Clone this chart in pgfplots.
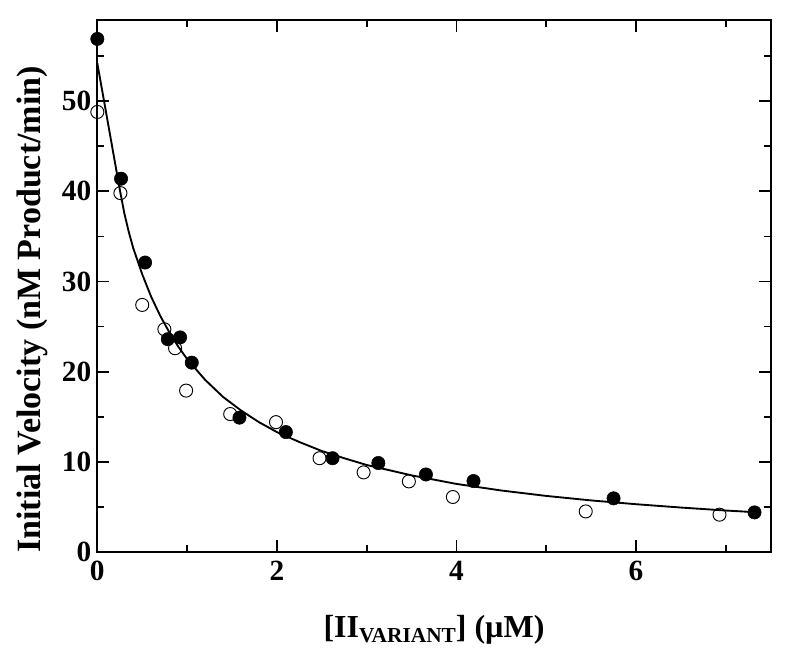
\documentclass[border=0pt]{standalone}
\usepackage{fontspec}
\setmainfont{Liberation Serif}
\usepackage{pgfplots}
\pgfplotsset{compat=1.18}

\begin{document}
\begin{tikzpicture}
\begin{axis}[
    scale only axis,
    width=505pt, height=399pt,
    xmin=0, xmax=7.5, ymin=0, ymax=59,
    xtick={0,2,4,6}, minor xtick={1,3,5,7},
    ytick={0,10,20,30,40,50}, minor ytick={5,15,25,35,45,55},
    tick align=inside,
    major tick length=9pt, minor tick length=5pt,
    every tick/.style={line width=1.3pt, black},
    axis line style={line width=1.5pt},
    /pgf/number format/assume math mode=true,
    tick label style={font=\fontsize{22}{26}\selectfont\bfseries},
    xticklabel style={yshift=-3pt},
    yticklabel style={xshift=-1pt},
    xlabel={[II\raisebox{-0.35ex}{\fontsize{16}{16}\selectfont VARIANT}] (µM)},
    ylabel={Initial Velocity (nM Product/min)},
    xlabel style={font=\fontsize{24}{28}\selectfont\bfseries, at={(axis description cs:0.5,0)}, anchor=north, inner sep=0pt, yshift=-47pt},
    ylabel style={font=\fontsize{25.5}{30}\selectfont\bfseries, at={(axis description cs:0,0.456)}, anchor=south, inner sep=0pt, yshift=37pt},
    clip=false,
]
% fitted curve
\addplot[black, line width=1.4pt, no marks] coordinates {
(0,54.2) (0.25,40.2) (0.3,37.6) (0.35,35.5) (0.4,33.7) (0.5,30.8) (0.6,28.3)
(0.7,26.2) (0.8,24.4) (0.9,22.8) (1.0,21.4) (1.2,19.1) (1.4,17.2) (1.6,15.7)
(1.8,14.4) (2.0,13.3) (2.25,12.2) (2.5,11.2) (2.75,10.4) (3,9.65) (3.5,8.5)
(4,7.55) (4.5,6.82) (5,6.22) (5.5,5.72) (6,5.3) (6.5,4.93) (7,4.6) (7.32,4.42)
};
% open circles
\addplot[only marks, mark=o, mark size=4.9pt, mark options={line width=0.7pt, black}] coordinates {
(0.0,48.8) (0.257,39.8) (0.50,27.4) (0.747,24.7) (0.866,22.6) (0.989,17.9)
(1.48,15.3) (1.99,14.4) (2.475,10.4) (2.966,8.83) (3.47,7.83) (3.96,6.1)
(5.44,4.5) (6.93,4.14)
};
% filled circles
\addplot[only marks, mark=*, mark size=5pt, mark options={black, fill=black}] coordinates {
(0,56.9) (0.264,41.4) (0.532,32.1) (0.785,23.6) (0.922,23.8) (1.052,21.0)
(1.583,14.9) (2.10,13.3) (2.62,10.4) (3.13,9.87) (3.66,8.6) (4.19,7.87)
(5.75,5.95) (7.32,4.39)
};
\end{axis}
\pgfresetboundingbox
\path ([shift={(-73pt,-85.3pt)}]current axis.south west) rectangle ([shift={(22pt,15pt)}]current axis.north east);
\end{tikzpicture}
\end{document}
